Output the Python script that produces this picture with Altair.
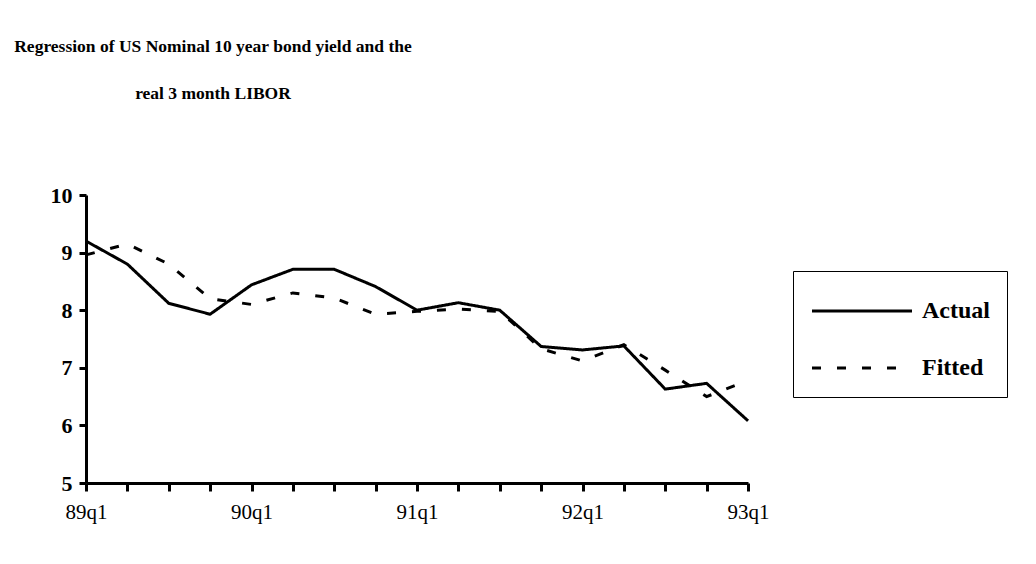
import altair as alt
import pandas as pd

quarters = ["89q1", "89q2", "89q3", "89q4", "90q1", "90q2", "90q3", "90q4",
            "91q1", "91q2", "91q3", "91q4", "92q1", "92q2", "92q3", "92q4", "93q1"]
actual = [9.2, 8.8, 8.12, 7.93, 8.44, 8.71, 8.71, 8.41, 8.0, 8.13, 8.0,
          7.37, 7.31, 7.38, 6.63, 6.73, 6.08]
fitted = [8.96, 9.15, 8.8, 8.2, 8.1, 8.3, 8.21, 7.93, 7.98, 8.02, 7.98,
          7.33, 7.12, 7.4, 6.96, 6.5, 6.78]
series_names = ["Actual", "Fitted"]

rows = []
for q, a, f in zip(quarters, actual, fitted):
    rows.append({"quarter": q, "series": series_names[0], "value": a})
    rows.append({"quarter": q, "series": series_names[1], "value": f})
df = pd.DataFrame(rows)

SERIF = "Liberation Serif"

chart = alt.Chart(df).mark_line(strokeWidth=3, color="black", strokeCap="butt").encode(
    x=alt.X("quarter:O", sort=quarters,
            scale=alt.Scale(type="point", padding=0),
            axis=alt.Axis(title=None, labelAngle=0,
                          labelExpr="indexof(datum.label, 'q1') > 0 ? datum.label : ''",
                          labelFont=SERIF, labelFontSize=21, labelColor="black",
                          labelPadding=10,
                          domainColor="black", domainWidth=3,
                          tickColor="black", tickWidth=3, tickSize=8)),
    y=alt.Y("value:Q", scale=alt.Scale(domain=[5, 10], nice=False, zero=False),
            axis=alt.Axis(title=None, values=[5, 6, 7, 8, 9, 10], format="d",
                          labelFont=SERIF, labelFontSize=22, labelFontWeight="bold",
                          labelColor="black", labelPadding=7,
                          domainColor="black", domainWidth=3,
                          tickColor="black", tickWidth=3, tickSize=7, grid=False)),
    strokeDash=alt.StrokeDash("series:N",
                              scale=alt.Scale(domain=series_names, range=[[1, 0], [9, 16]]),
                              legend=alt.Legend(title=" ", titleFontSize=6, titlePadding=5,
                                                orient="none",
                                                legendX=707, legendY=76,
                                                symbolType="M-1,0H9", symbolSize=400,
                                                symbolStrokeWidth=3, symbolStrokeColor="black",
                                                labelFont=SERIF, labelFontSize=24,
                                                labelFontWeight="bold", labelColor="black",
                                                labelOffset=88,
                                                rowPadding=33, padding=17,
                                                strokeColor="black", fillColor="white")),
).properties(
    width=662, height=288,
    title=alt.TitleParams(
        text=["Regression of US Nominal 10 year bond yield and the", "real 3 month LIBOR"],
        font=SERIF, fontSize=17.5, fontWeight="bold", color="black",
        anchor="start", align="center", frame="group", dx=127,
        lineHeight=47, offset=82),
    autosize=alt.AutoSizeParams(type="none"),
    padding={"left": 78, "top": 187, "right": 280, "bottom": 73},
    background="white",
).configure_view(strokeWidth=0)

chart.save("out.html", embed_options={"renderer": "svg", "actions": False})
